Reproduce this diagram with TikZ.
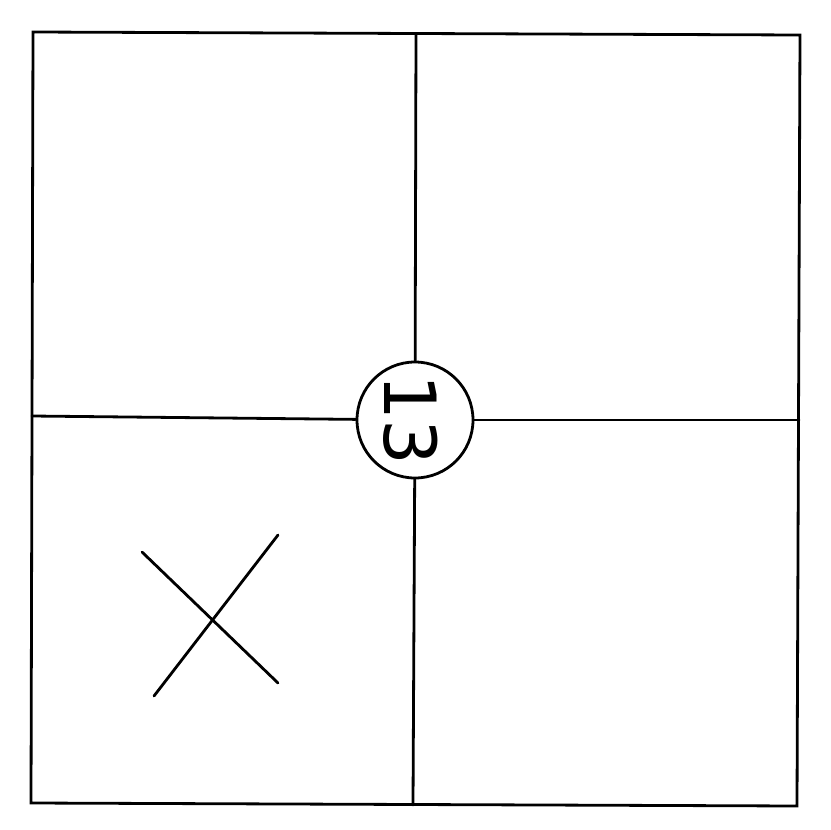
\documentclass[tikz,border=0pt]{standalone}
\usepackage{fontspec}
\newfontfamily\numfont{DejaVu Sans}
\begin{document}
\begin{tikzpicture}[x=1pt,y=-1pt,
  ln/.style={line width=2.8pt,line cap=round,line join=miter},
  hub/.style={circle,draw,line width=2.8pt,minimum size=116pt,inner sep=0pt}]
\useasboundingbox (0,0) rectangle (831,830);
\coordinate (tl) at (33,32);
\coordinate (tr) at (800,35);
\coordinate (br) at (797,806);
\coordinate (bl) at (31,803);
\draw[ln] (tl) -- (tr) -- (br) -- (bl) -- cycle;
\node[hub] (c) at (415,420) {};
\node[rotate=-90,font=\numfont\fontsize{72}{72}\selectfont,inner sep=0pt] (lbl) at (411,420) {13};
\coordinate (t) at (416,34);
\coordinate (b) at (413,805);
\coordinate (l) at (32,416);
\coordinate (r) at (799,420);
\draw[ln] (t) -- (c);
\draw[ln] (c) -- (b);
\draw[ln] (l) -- (c);
\draw[ln] (c) -- (r);
\coordinate (x1) at (142,552);
\coordinate (x2) at (278,683);
\coordinate (x3) at (278,535);
\coordinate (x4) at (154,696);
\draw[ln] (x1) -- (x2);
\draw[ln] (x3) -- (x4);
\end{tikzpicture}
\end{document}
